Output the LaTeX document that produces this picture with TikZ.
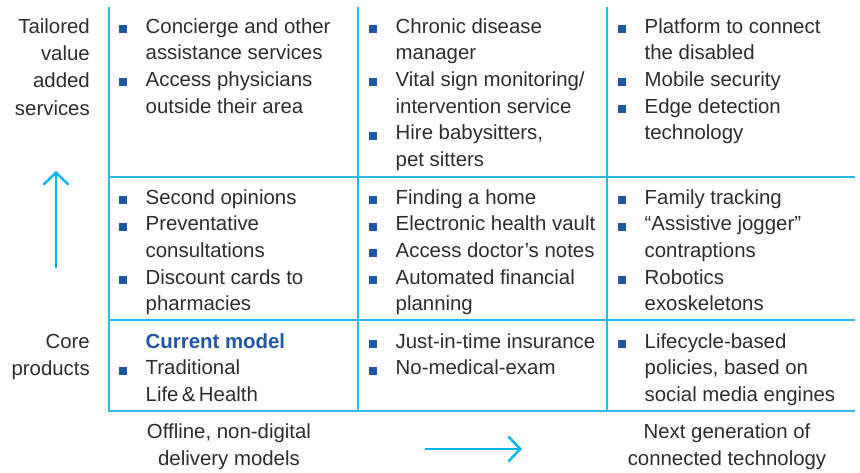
\documentclass[tikz,border=0pt]{standalone}
\usepackage{fontspec}
\setmainfont{Liberation Sans}
\usetikzlibrary{arrows.meta,positioning}

\definecolor{gridblue}{RGB}{40,185,232}
\definecolor{arrowblue}{RGB}{0,180,236}
\definecolor{bulletblue}{RGB}{33,86,165}
\definecolor{txtgray}{RGB}{45,45,45}
\newcommand{\sqb}{\textcolor{bulletblue}{\rule{8pt}{8pt}}}

\begin{document}
\begin{tikzpicture}[x=1pt, y=-1pt,
    cell/.style={anchor=base west, inner sep=0pt, text=txtgray, font=\fontsize{20.4}{26.7}\selectfont},
    lbl/.style={inner sep=0pt, text=txtgray, font=\fontsize{20.4}{27.4}\selectfont},
    gridline/.style={draw=gridblue, line width=1.4pt},
    border/.style={draw=gridblue, line width=2pt},
    arrow/.style={-{Straight Barb[length=12pt, width=25pt, line width=2.4pt]}, draw=arrowblue, line width=2.4pt}
]
\useasboundingbox (0,0) rectangle (860,472);

% Grid
\coordinate (tl) at (108.5,7);
\coordinate (bl) at (108.5,411);
\coordinate (br) at (855,411);
\draw[gridline] (358,7) -- (358,411);
\draw[gridline] (607,7) -- (607,411);
\draw[gridline] (108.5,177) -- (855,177);
\draw[gridline] (108.5,320) -- (855,320);
\draw[border] (tl) -- (bl) -- (br);

% Row 1: tailored value added services
\node[cell] (c11) at (119,33) {\begin{tabular}[t]{@{}l@{\hspace{18.5pt}}l@{}}
    \sqb & Concierge and other\\
        & assistance services\\
    \sqb & Access physicians\\
        & outside their area
\end{tabular}};
\node[cell] (c12) at (369,33) {\begin{tabular}[t]{@{}l@{\hspace{18.5pt}}l@{}}
    \sqb & Chronic disease\\
        & manager\\
    \sqb & Vital sign monitoring/\\
        & intervention service\\
    \sqb & Hire babysitters,\\
        & pet sitters
\end{tabular}};
\node[cell] (c13) at (618,33) {\begin{tabular}[t]{@{}l@{\hspace{18.5pt}}l@{}}
    \sqb & Platform to connect\\
        & the disabled\\
    \sqb & Mobile security\\
    \sqb & Edge detection\\
        & technology
\end{tabular}};

% Row 2
\node[cell] (c21) at (119,204) {\begin{tabular}[t]{@{}l@{\hspace{18.5pt}}l@{}}
    \sqb & Second opinions\\
    \sqb & Preventative\\
        & consultations\\
    \sqb & Discount cards to\\
        & pharmacies
\end{tabular}};
\node[cell] (c22) at (369,204) {\begin{tabular}[t]{@{}l@{\hspace{18.5pt}}l@{}}
    \sqb & Finding a home\\
    \sqb & Electronic health vault\\
    \sqb & Access doctor’s notes\\
    \sqb & Automated financial\\
        & planning
\end{tabular}};
\node[cell] (c23) at (618,204) {\begin{tabular}[t]{@{}l@{\hspace{18.5pt}}l@{}}
    \sqb & Family tracking\\
    \sqb & ``Assistive jogger''\\
        & contraptions\\
    \sqb & Robotics\\
        & exoskeletons
\end{tabular}};

% Row 3: core products
\node[cell] (c31) at (119,348) {\begin{tabular}[t]{@{}l@{\hspace{18.5pt}}l@{}}
        & \textcolor{bulletblue}{\textbf{Current model}}\\
    \sqb & Traditional\\
        & Life\,\&\,Health
\end{tabular}};
\node[cell] (c32) at (369,348) {\begin{tabular}[t]{@{}l@{\hspace{18.5pt}}l@{}}
    \sqb & Just-in-time insurance\\
    \sqb & No-medical-exam
\end{tabular}};
\node[cell] (c33) at (618,348) {\begin{tabular}[t]{@{}l@{\hspace{18.5pt}}l@{}}
    \sqb & Lifecycle-based\\
        & policies, based on\\
        & social media engines
\end{tabular}};

% Axis labels
\node[lbl, anchor=base east] (tailored) at (90,33) {\begin{tabular}[t]{@{}r@{}}
    Tailored\\ value\\ added\\ services
\end{tabular}};
\node[lbl, anchor=base east] (core) at (90,348) {\begin{tabular}[t]{@{}r@{}}
    Core\\ products
\end{tabular}};
\node[lbl, anchor=base] (offline) at (229,438) {\begin{tabular}[t]{@{}c@{}}
    Offline, non-digital\\ delivery models
\end{tabular}};
\node[lbl, anchor=base] (nextgen) at (727,438) {\begin{tabular}[t]{@{}c@{}}
    Next generation of\\ connected technology
\end{tabular}};

% Arrows
\coordinate (upfoot) at (56,268);
\coordinate (uptip) at (56,171);
\coordinate (rightfoot) at (425,449);
\coordinate (righttip) at (522,449);
\draw[arrow] (upfoot) -- (uptip);
\draw[arrow] (rightfoot) -- (righttip);

\end{tikzpicture}
\end{document}
